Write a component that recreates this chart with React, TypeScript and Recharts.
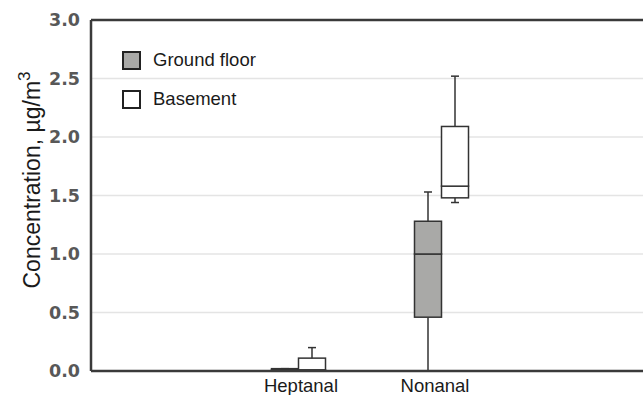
import React from "react";
import { ComposedChart, Bar, XAxis, YAxis, CartesianGrid, ReferenceLine } from "recharts";

const categories = ["Heptanal", "Nonanal"];
const groundMin = [0, 0];
const groundQ1 = [0, 0.46];
const groundMedian = [0.01, 1.0];
const groundQ3 = [0.02, 1.28];
const groundMax = [0.02, 1.53];
const basementMin = [0, 1.44];
const basementQ1 = [0, 1.48];
const basementMedian = [0.01, 1.58];
const basementQ3 = [0.11, 2.09];
const basementMax = [0.2, 2.52];
const yTicks = [0, 0.5, 1.0, 1.5, 2.0, 2.5, 3.0];
const seriesNames = ["Ground floor", "Basement"];
const seriesFills = ["#a9a9a7", "#ffffff"];

const data = categories.map((c, i) => ({
  name: c,
  gBase: groundMin[i],
  gLow: groundQ1[i] - groundMin[i],
  gBoxLow: groundMedian[i] - groundQ1[i],
  gBoxHigh: groundQ3[i] - groundMedian[i],
  gHigh: groundMax[i] - groundQ3[i],
  bBase: basementMin[i],
  bLow: basementQ1[i] - basementMin[i],
  bBoxLow: basementMedian[i] - basementQ1[i],
  bBoxHigh: basementQ3[i] - basementMedian[i],
  bHigh: basementMax[i] - basementQ3[i],
}));

const STROKE = "#333";
const CAP = 8;
const labelShift: Record<string, number> = { Heptanal: 3, Nonanal: -6 };

const LowWhisker = (p: any) => {
  const cx = p.x + p.width / 2;
  const y2 = p.y + p.height;
  return (
    <g>
      <line x1={cx} x2={cx} y1={p.y} y2={y2} stroke={STROKE} strokeWidth={1.5} />
      <line x1={cx - CAP / 2} x2={cx + CAP / 2} y1={y2} y2={y2} stroke={STROKE} strokeWidth={1.5} />
    </g>
  );
};
const HighWhisker = (p: any) => {
  const cx = p.x + p.width / 2;
  return (
    <g>
      <line x1={cx} x2={cx} y1={p.y} y2={p.y + p.height} stroke={STROKE} strokeWidth={1.5} />
      <line x1={cx - CAP / 2} x2={cx + CAP / 2} y1={p.y} y2={p.y} stroke={STROKE} strokeWidth={1.5} />
    </g>
  );
};
const makeBox = (fill: string) => (p: any) => (
  <rect x={p.x} y={p.y} width={p.width} height={Math.max(p.height, 0)} fill={fill} stroke={STROKE} strokeWidth={1.5} />
);
const Empty = () => <g />;

const XTick = (props: any) => {
  const { x, y, payload } = props;
  const v = payload.value;
  return (
    <text
      x={x + (labelShift[v] || 0)}
      y={y}
      dy="0.71em"
      textAnchor="middle"
      fill="#1a1a1a"
      fontSize={18.5}
      fontFamily="Liberation Sans, Arial, sans-serif"
    >
      {v}
    </text>
  );
};

const YLabel = () => {
  const cx = 40;
  const cy = 180;
  return (
    <text
      x={cx}
      y={cy}
      transform={`rotate(-90, ${cx}, ${cy})`}
      textAnchor="middle"
      fontFamily="Liberation Sans, Arial, sans-serif"
      fontSize={23}
      fill="#1a1a1a"
    >
      Concentration, µg/m<tspan dy={-10} fontSize={17}>3</tspan>
    </text>
  );
};

const LegendBox = () => (
  <div
    style={{
      position: "absolute",
      left: 122,
      top: 50,
      fontFamily: "Liberation Sans, Arial, sans-serif",
      fontSize: 18.5,
      color: "#1a1a1a",
      pointerEvents: "none",
    }}
  >
    {seriesNames.map((n, i) => (
      <div key={n} style={{ display: "flex", alignItems: "center", height: 20, marginBottom: 19 }}>
        <div
          style={{
            width: 15,
            height: 15,
            border: "2px solid #222",
            background: seriesFills[i],
            marginRight: 12,
          }}
        />
        <span>{n}</span>
      </div>
    ))}
  </div>
);

export default function App() {
  return (
    <div
      style={{
        position: "fixed",
        left: 0,
        top: 0,
        width: 643,
        height: 395,
        overflow: "hidden",
        background: "#fff",
      }}
    >
      <ComposedChart
        width={668}
        height={395}
        data={data}
        margin={{ top: 20, right: 0, bottom: 0, left: 0 }}
        barGap={0}
        barSize={27}
      >
        <CartesianGrid vertical={false} stroke="#e4e4e4" strokeWidth={1.5} />
        <XAxis
          dataKey="name"
          type="category"
          height={24}
          interval={0}
          padding={{ left: 135.5, right: 155.5 }}
          tickLine={false}
          tickSize={6}
          tickMargin={2}
          axisLine={{ stroke: "#3a3a3a", strokeWidth: 2.5 }}
          tick={XTick}
        />
        <YAxis
          type="number"
          domain={[0, 3]}
          ticks={yTicks}
          width={91}
          interval={0}
          tickFormatter={(v: number) => v.toFixed(1)}
          tickLine={false}
          tickSize={6}
          tickMargin={5}
          axisLine={{ stroke: "#3a3a3a", strokeWidth: 2.5 }}
          tick={{ fill: "#585858", fontSize: 17.5, fontWeight: "bold", fontFamily: "DejaVu Sans, sans-serif" }}
          label={{ content: YLabel }}
        />
        <ReferenceLine y={3} stroke="#3a3a3a" strokeWidth={2.5} />
        <Bar dataKey="gBase" stackId="g" shape={Empty} fill="none" isAnimationActive={false} />
        <Bar dataKey="gLow" stackId="g" shape={LowWhisker} isAnimationActive={false} />
        <Bar dataKey="gBoxLow" stackId="g" shape={makeBox(seriesFills[0])} isAnimationActive={false} />
        <Bar dataKey="gBoxHigh" stackId="g" shape={makeBox(seriesFills[0])} isAnimationActive={false} />
        <Bar dataKey="gHigh" stackId="g" shape={HighWhisker} isAnimationActive={false} />
        <Bar dataKey="bBase" stackId="b" shape={Empty} fill="none" isAnimationActive={false} />
        <Bar dataKey="bLow" stackId="b" shape={LowWhisker} isAnimationActive={false} />
        <Bar dataKey="bBoxLow" stackId="b" shape={makeBox(seriesFills[1])} isAnimationActive={false} />
        <Bar dataKey="bBoxHigh" stackId="b" shape={makeBox(seriesFills[1])} isAnimationActive={false} />
        <Bar dataKey="bHigh" stackId="b" shape={HighWhisker} isAnimationActive={false} />
      </ComposedChart>
      <LegendBox />
    </div>
  );
}
